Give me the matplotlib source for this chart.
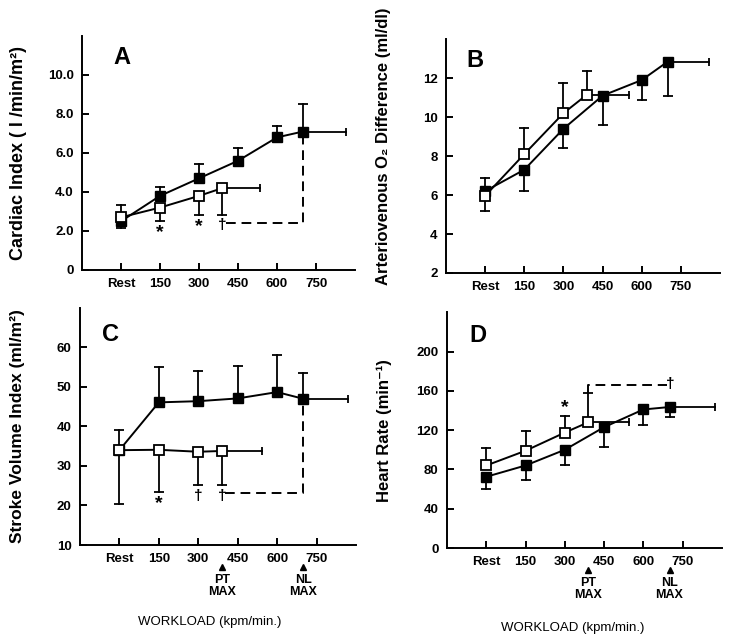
import numpy as np
import matplotlib.pyplot as plt

plt.rcParams['font.family'] = ['Liberation Sans', 'DejaVu Sans']

# workloads (Rest = 0)
x_nl = [0, 150, 300, 450, 600, 700]
x_pt = [0, 150, 300, 390]
xticks = [0, 150, 300, 450, 600, 750]
xticklabels = ['Rest', '150', '300', '450', '600', '750']

# A: cardiac index
ci_nl = [2.5, 3.8, 4.7, 5.6, 6.8, 7.1]
ci_nl_lo = [0.35, 0, 0, 0, 0, 0]
ci_nl_hi = [0, 0.46, 0.75, 0.67, 0.6, 1.4]
ci_pt = [2.7, 3.2, 3.8, 4.2]
ci_pt_lo = [0, 0.7, 1.0, 1.4]
ci_pt_hi = [0.63, 0, 0, 0]

# B: arteriovenous O2 difference
av_nl = [6.2, 7.3, 9.4, 11.1, 11.9, 12.85]
av_nl_lo = [0, 1.1, 1.0, 1.5, 1.05, 1.75]
av_nl_hi = [0.69, 0, 0, 0, 0, 0]
av_pt = [5.96, 8.1, 10.2, 11.15]
av_pt_lo = [0.78, 0, 0, 0]
av_pt_hi = [0, 1.36, 1.56, 1.2]

# C: stroke volume index
sv_nl = [34.0, 46.1, 46.4, 47.1, 48.7, 47.0]
sv_nl_lo = [0, 0, 0, 0, 0, 0]
sv_nl_hi = [5.1, 9.0, 7.7, 8.2, 9.3, 6.6]
sv_pt = [34.0, 34.1, 33.6, 33.8]
sv_pt_lo = [13.7, 10.8, 8.4, 8.6]
sv_pt_hi = [0, 0, 0, 0]

# D: heart rate
hr_nl = [72.5, 84, 100, 123, 141, 143.5]
hr_nl_lo = [12.7, 14.7, 15.2, 20.5, 15.4, 10.6]
hr_nl_hi = [0, 0, 0, 0, 0, 0]
hr_pt = [84, 99, 117.5, 128]
hr_pt_lo = [0, 0, 0, 0]
hr_pt_hi = [17.5, 20, 16.5, 29.3]

# horizontal spread of max workload (right end)
max_nl = [865, 857, 868, 874]
max_pt = [536, 552, 542, 546]

K = 'black'


def vbars(ax, x, y, lo, hi):
    for xi, yi, l, h in zip(x, y, lo, hi):
        for d in (-l, h):
            if d:
                ax.plot([xi, xi], [yi, yi + d], color=K, lw=1.3, zorder=2)
                ax.plot([xi], [yi + d], marker='_', ms=7, mew=1.3, color=K, zorder=2)


def panel(ax, x1, y1, lo1, hi1, x2, y2, lo2, hi2, end1, end2):
    ax.plot([x1[-1], end1], [y1[-1], y1[-1]], color=K, lw=1.3)
    ax.plot([end1], [y1[-1]], marker='|', ms=6, mew=1.3, color=K)
    ax.plot([x2[-1], end2], [y2[-1], y2[-1]], color=K, lw=1.3)
    ax.plot([end2], [y2[-1]], marker='|', ms=6, mew=1.3, color=K)
    vbars(ax, x1, y1, lo1, hi1)
    vbars(ax, x2, y2, lo2, hi2)
    ax.plot(x1, y1, color=K, lw=1.4, marker='s', ms=6.5, mfc=K, mec=K, zorder=3)
    ax.plot(x2, y2, color=K, lw=1.4, marker='s', ms=6.5, mfc='white', mec=K, mew=1.3, zorder=4)
    ax.set_xlim(-150, 900)
    ax.set_xticks(xticks)
    ax.set_xticklabels(xticklabels)
    for s in ('top', 'right'):
        ax.spines[s].set_visible(False)
    for s in ('left', 'bottom'):
        ax.spines[s].set_linewidth(1.4)
    ax.tick_params(direction='in', length=5, width=1.4, labelsize=9.5, pad=6)
    for t in ax.get_xticklabels() + ax.get_yticklabels():
        t.set_fontweight('bold')


fig = plt.figure(figsize=(7.29, 6.39), dpi=100)
axA = fig.add_axes([0.1125, 0.5775, 0.3745, 0.3662])
axB = fig.add_axes([0.6118, 0.5728, 0.376, 0.366])
axC = fig.add_axes([0.1097, 0.1471, 0.3786, 0.371])
axD = fig.add_axes([0.6132, 0.1424, 0.377, 0.369])

panel(axA, x_nl, ci_nl, ci_nl_lo, ci_nl_hi, x_pt, ci_pt, ci_pt_lo, ci_pt_hi, max_nl[0], max_pt[0])
axA.set_ylim(0, 12)
axA.set_yticks([0, 2, 4, 6, 8, 10])
axA.set_yticklabels(['0', '2.0', '4.0', '6.0', '8.0', '10.0'], fontweight='bold')
axA.set_ylabel('Cardiac Index ( l /min/m²)', fontsize=13, fontweight='bold')
axA.plot([405, 700, 700], [2.41, 2.41, ci_nl[-1]], color=K, lw=1.4, ls=(0, (5, 3)))
axA.text(150, 1.9, '*', ha='center', va='center', fontsize=14, fontweight='bold')
axA.text(300, 2.25, '*', ha='center', va='center', fontsize=14, fontweight='bold')
axA.text(390, 2.3, '†', ha='center', va='center', fontsize=11, fontweight='bold')

panel(axB, x_nl, av_nl, av_nl_lo, av_nl_hi, x_pt, av_pt, av_pt_lo, av_pt_hi, max_nl[1], max_pt[1])
axB.set_ylim(2, 14)
axB.set_yticks([2, 4, 6, 8, 10, 12])
axB.set_yticklabels(['2', '4', '6', '8', '10', '12'], fontweight='bold')
axB.set_ylabel('Arteriovenous O₂ Difference (ml/dl)', fontsize=12, fontweight='bold')

panel(axC, x_nl, sv_nl, sv_nl_lo, sv_nl_hi, x_pt, sv_pt, sv_pt_lo, sv_pt_hi, max_nl[2], max_pt[2])
axC.set_ylim(10, 70)
axC.set_yticks([10, 20, 30, 40, 50, 60])
axC.set_yticklabels(['10', '20', '30', '40', '50', '60'], fontweight='bold')
axC.set_ylabel('Stroke Volume Index (ml/m²)', fontsize=12.5, fontweight='bold')
axC.plot([403, 700, 700], [23.2, 23.2, sv_nl[-1]], color=K, lw=1.4, ls=(0, (5, 3)))
axC.text(150, 20.5, '*', ha='center', va='center', fontsize=14, fontweight='bold')
axC.text(300, 22.3, '†', ha='center', va='center', fontsize=11, fontweight='bold')
axC.text(390, 22.3, '†', ha='center', va='center', fontsize=11, fontweight='bold')

panel(axD, x_nl, hr_nl, hr_nl_lo, hr_nl_hi, x_pt, hr_pt, hr_pt_lo, hr_pt_hi, max_nl[3], max_pt[3])
axD.set_ylim(0, 240)
axD.set_yticks([0, 40, 80, 120, 160, 200])
axD.set_yticklabels(['0', '40', '80', '120', '160', '200'], fontweight='bold')
axD.set_ylabel('Heart Rate (min⁻¹)', fontsize=12, fontweight='bold')
axD.plot([390, 390, 690], [hr_pt[-1] + hr_pt_hi[-1], 165.5, 165.5], color=K, lw=1.4, ls=(0, (5, 3)))
axD.text(300, 143, '*', ha='center', va='center', fontsize=14, fontweight='bold')
axD.text(703, 167, '†', ha='center', va='center', fontsize=11, fontweight='bold')

for ax, lab, lx, ly, ymid in [(axA, 'A', 0.146, 0.91, 0.5), (axB, 'B', 0.106, 0.91, 0.54),
                              (axC, 'C', 0.109, 0.886, 0.5), (axD, 'D', 0.113, 0.90, 0.5)]:
    ax.text(lx, ly, lab, transform=ax.transAxes, ha='center', va='center',
            fontsize=17, fontweight='bold')
    ax.yaxis.set_label_coords(-0.2, ymid)

# PT / NL max markers under the bottom panels
for ax in (axC, axD):
    tr = ax.get_xaxis_transform()
    for xm, name in [(390, 'PT'), (700, 'NL')]:
        ax.plot([xm], [-0.093], marker='^', ms=4.5, color=K, transform=tr, clip_on=False)
        ax.text(xm, -0.148, name, transform=tr, ha='center', va='center', fontsize=9, fontweight='bold')
        ax.text(xm, -0.198, 'MAX', transform=tr, ha='center', va='center', fontsize=9, fontweight='bold')

fig.text(210 / 729, 1 - 622 / 639, 'WORKLOAD (kpm/min.)', ha='center', va='center', fontsize=9.5)
fig.text(573 / 729, 1 - 628 / 639, 'WORKLOAD (kpm/min.)', ha='center', va='center', fontsize=9.5)

fig.savefig('out.png', dpi=100)
